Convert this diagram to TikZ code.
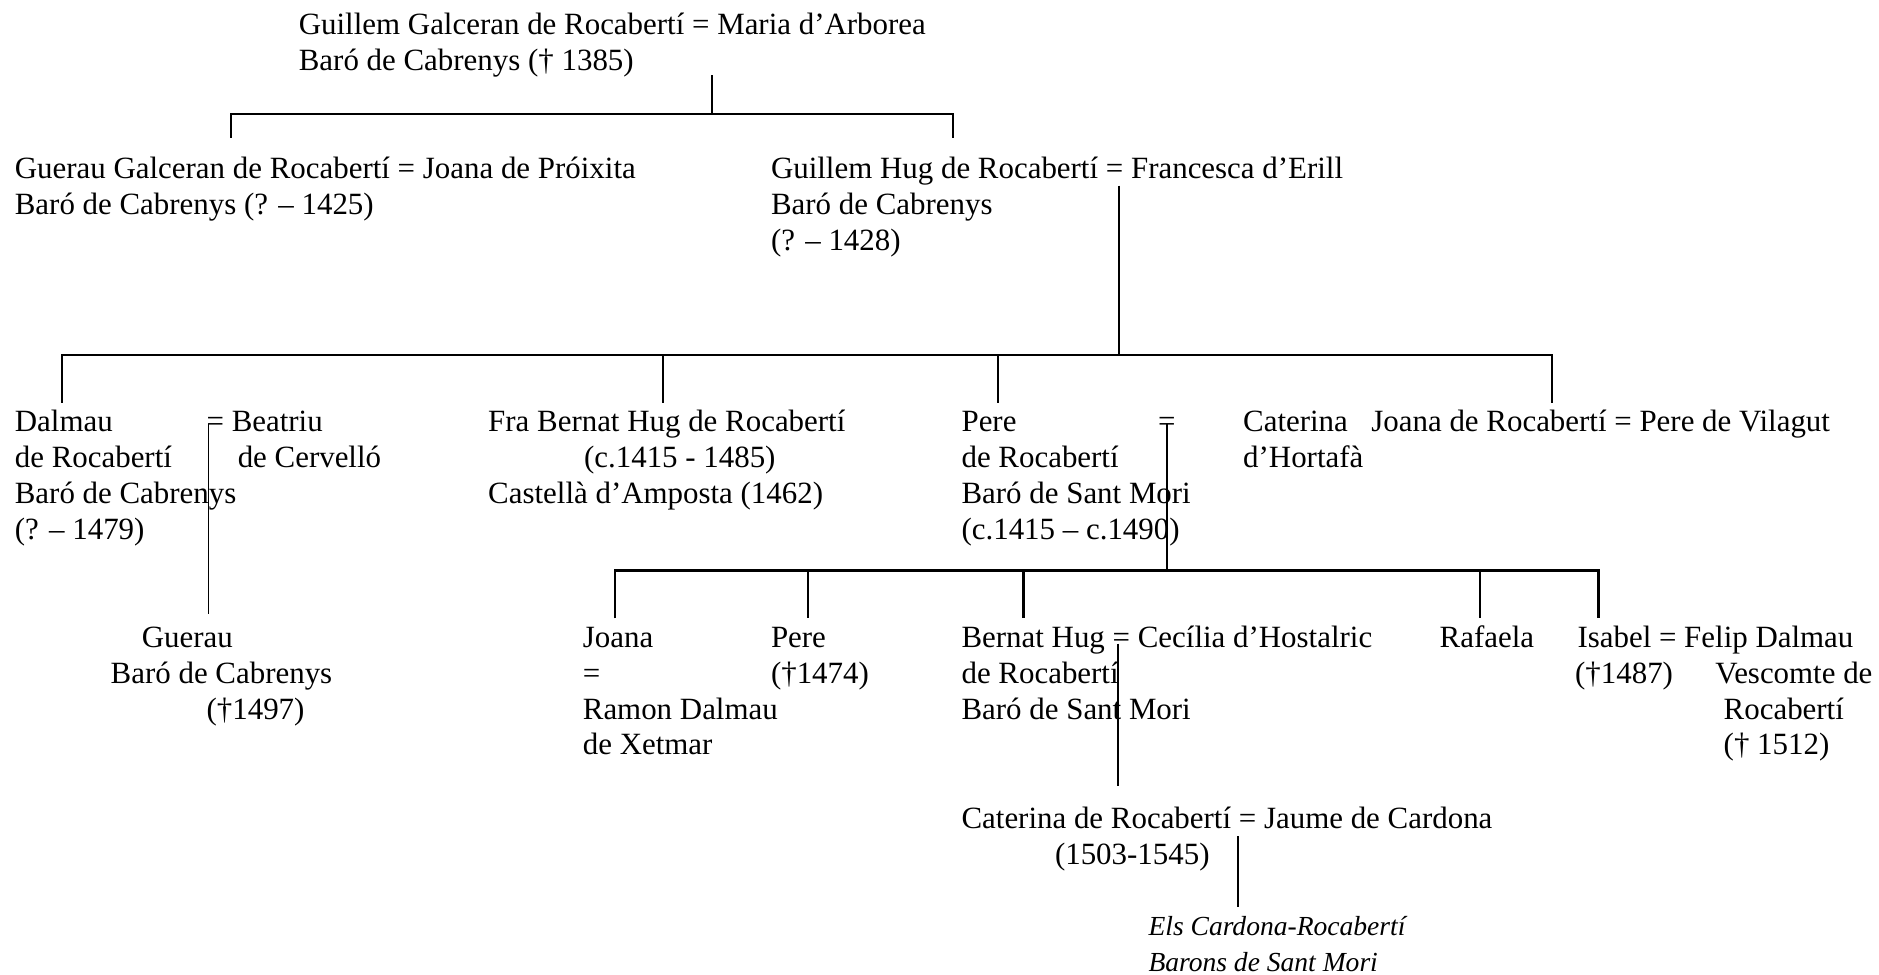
\documentclass[tikz,border=0pt]{standalone}
\usepackage{fontspec}
\setmainfont{Liberation Serif}

\begin{document}
\begin{tikzpicture}[x=0.5pt,y=-0.5pt,
  font=\fontsize{12.9pt}{15pt}\selectfont,
  person/.style={inner sep=0pt,anchor=base west,align=left},
  bar/.style={line width=0.95pt},
  tie/.style={line width=0.8pt}]
\useasboundingbox (0,0) rectangle (1568,813);

% first and second generation (nodes sit on the baseline of their last line)
\node[person] (guillemG) at (249,59) {Guillem Galceran de Rocabertí = Maria d’Arborea\\Baró de Cabrenys († 1385)};
\node[person] (guerauG) at (12,179) {Guerau Galceran de Rocabertí = Joana de Próixita\\Baró de Cabrenys (? – 1425)};
\node[person] (guillemH) at (643,209) {Guillem Hug de Rocabertí = Francesca d’Erill\\Baró de Cabrenys\\(? – 1428)};

\coordinate (tieA) at (594,63);
\coordinate (barA) at (594,95);
\coordinate (barAl) at (193,95);
\coordinate (barAr) at (795,95);
\coordinate (dropGuerauG) at (193,115);
\coordinate (dropGuillemH) at (795,115);
\draw[bar] (tieA) -- (barA);
\draw[bar] (dropGuerauG) -- (barAl) -- (barAr) -- (dropGuillemH);

% third generation
\node[person] (dalmau) at (12,450) {Dalmau\\de Rocabertí\\Baró de Cabrenys\\(? – 1479)};
\node[person] (beatriu) at (172,390) {= Beatriu\\\hspace*{13pt}de Cervelló};
\node[person] (bernatF) at (407,420) {Fra Bernat Hug de Rocabertí\\\hspace*{40pt}(c.1415 - 1485)\\Castellà d’Amposta (1462)};
\node[person] (pere) at (802,450) {Pere\\de Rocabertí\\Baró de Sant Mori\\(c.1415 – c.1490)};
\node[person] (pereEq) at (966,360) {=};
\node[person] (caterinaH) at (1037,390) {Caterina\\d’Hortafà};
\node[person] (joanaR) at (1144,360) {Joana de Rocabertí = Pere de Vilagut};

\coordinate (tieB) at (934,155);
\coordinate (barB) at (934,296);
\coordinate (barBl) at (52,296);
\coordinate (barBr) at (1295,296);
\coordinate (dropDalmau) at (52,336);
\coordinate (dropJoanaR) at (1295,336);
\draw[bar] (tieB) -- (barB);
\draw[bar] (dropDalmau) -- (barBl) -- (barBr) -- (dropJoanaR);
\foreach \x [count=\i] in {553,833} {
  \coordinate (upB\i) at (\x,296);
  \coordinate (dnB\i) at (\x,336);
  \draw[bar] (upB\i) -- (dnB\i);
}

% fourth generation
\node[person] (guerau) at (92,600) {\hspace*{13pt}Guerau\\Baró de Cabrenys\\\hspace*{40pt}(†1497)};
\node[person] (joanaX) at (486,630) {Joana\\=\\Ramon Dalmau\\de Xetmar};
\node[person] (pereM) at (643,570) {Pere\\(†1474)};
\node[person] (bernat) at (802,600) {Bernat Hug = Cecília d’Hostalric\\de Rocabertí\\Baró de Sant Mori};
\node[person] (rafaela) at (1201,540) {Rafaela};
\node[person] (isabel) at (1316,570) {Isabel = Felip Dalmau\\\hspace*{-1pt}(†1487)};
\node[person] (felip) at (1431,630) {Vescomte de\\\hspace*{3.5pt}Rocabertí\\\hspace*{3.5pt}(† 1512)};

\coordinate (tieDalmau) at (174,354);
\coordinate (dropGuerau) at (174,512);
\draw[tie] (tieDalmau) -- (dropGuerau);

\coordinate (tiePere) at (974,354);
\coordinate (barC) at (974,476);
\coordinate (barCl) at (513,476);
\coordinate (barCr) at (1334,476);
\coordinate (dropJoanaX) at (513,516);
\coordinate (dropIsabel) at (1334,516);
\draw[tie] (tiePere) -- (barC);
\draw[bar] (dropJoanaX) -- (barCl) -- (barCr) -- (dropIsabel);
\foreach \x [count=\i] in {674,854,1235} {
  \coordinate (upC\i) at (\x,476);
  \coordinate (dnC\i) at (\x,516);
  \draw[bar] (upC\i) -- (dnC\i);
}

% fifth generation
\node[person] (caterina) at (802,721) {Caterina de Rocabertí = Jaume de Cardona\\\hspace*{39pt}(1503-1545)};
\node[person,font=\fontsize{11.5pt}{15pt}\selectfont\itshape] (cardona) at (958,811) {Els Cardona-Rocabertí\\Barons de Sant Mori};

\coordinate (tieBernat) at (933,537);
\coordinate (dropCaterina) at (933,656);
\draw[tie] (tieBernat) -- (dropCaterina);

\coordinate (tieCaterina) at (1033,698);
\coordinate (dropCardona) at (1033,757);
\draw[bar] (tieCaterina) -- (dropCardona);
\end{tikzpicture}
\end{document}
